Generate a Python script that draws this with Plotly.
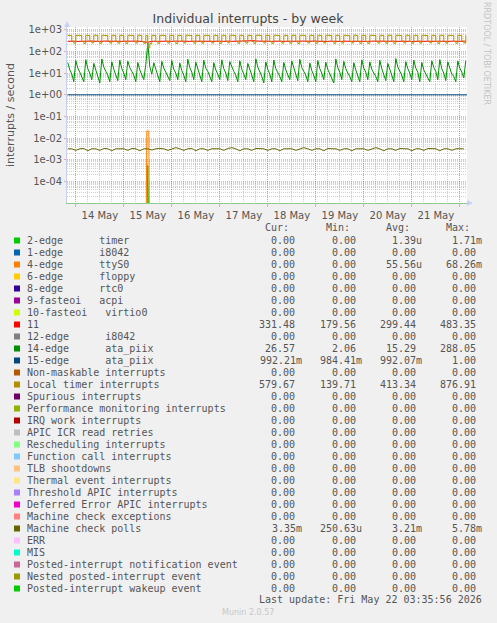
import pandas as pd
import plotly.graph_objects as go

# ---------------- data ----------------
START = "2026-05-13 20:00"
X_RANGE = ["2026-05-13 19:36", "2026-05-22 03:36"]
Y_RANGE_LOG = [-5, 3.13]

day_ticks = ["2026-05-14", "2026-05-15", "2026-05-16", "2026-05-17", "2026-05-18",
             "2026-05-19", "2026-05-20", "2026-05-21", "2026-05-22"]
day_labels = ["14 May", "15 May", "16 May", "17 May", "18 May", "19 May", "20 May", "21 May", ""]

y_tickvals = [1e3, 1e2, 1e1, 1e0, 1e-1, 1e-2, 1e-3, 1e-4]
y_ticktext = ["1e+03", "1e+02", "1e+01", "1e+00", "1e-01", "1e-02", "1e-03", "1e-04"]

# Local timer interrupts (hourly)
local_timer = [
    552, 546, 298, 242, 558, 551, 544, 291, 236, 560,
    548, 294, 250, 562, 555, 286, 239, 559, 549, 541,
    300, 246, 556, 550, 293, 243, 563, 553, 288, 237,
    557, 551, 546, 297, 247, 561, 552, 290, 241, 540,
    145, 232, 556, 549, 291, 238, 558, 552, 543, 296,
    244, 560, 553, 289, 236, 557, 550, 295, 249, 562,
    554, 547, 287, 240, 559, 551, 292, 243, 555, 549,
    542, 299, 246, 561, 553, 290, 238, 558, 550, 296,
    251, 563, 556, 548, 288, 239, 560, 552, 293, 245,
    556, 549, 291, 240, 565, 558, 550, 294, 247, 559,
    551, 289, 237, 562, 554, 545, 297, 244, 557, 550,
    292, 241, 560, 553, 286, 235, 558, 551, 543, 298,
    248, 561, 552, 290, 242, 556, 549, 295, 246, 563,
    555, 547, 288, 237, 559, 552, 293, 244, 557, 550,
    541, 296, 250, 562, 553, 291, 239, 558, 551, 287,
    236, 560, 554, 546, 299, 245, 557, 549, 292, 241,
    561, 553, 289, 238, 559, 550, 544, 295, 247, 563,
    555, 290, 240, 557, 551, 294, 243, 560, 552, 545,
    297, 249, 558, 550, 288, 236, 562, 554, 293, 244,
    556, 549, 540, 291, 239, 561, 553, 296, 246, 558,
]

# 14-edge ata_piix (hourly)
ata_piix_14 = [
    30, 14, 9, 4, 38, 17, 11, 7, 4, 42,
    16, 10, 5, 28, 13, 8, 3.5, 45, 19, 12,
    8, 4, 33, 15, 9, 4.5, 40, 16, 10, 5,
    36, 18, 12, 8, 4, 31, 14, 9, 5, 25,
    250, 20, 9, 30, 14, 8, 4, 35, 17, 11,
    7, 4.5, 38, 15, 10, 5, 29, 13, 8, 4,
    44, 18, 11, 5, 32, 15, 9, 4, 39, 17,
    12, 7, 4, 30, 14, 9, 5, 41, 16, 10,
    4.5, 34, 18, 12, 8, 4, 37, 15, 9, 5,
    28, 13, 8, 4, 46, 19, 12, 7, 3.5, 33,
    15, 9, 4, 40, 16, 11, 7, 4, 31, 14,
    9, 5, 36, 17, 10, 4.5, 43, 18, 12, 8,
    4, 29, 13, 8, 4, 38, 16, 10, 5, 32,
    15, 9, 6, 3.5, 45, 18, 11, 5, 35, 16,
    10, 7, 4, 30, 14, 8, 4, 41, 17, 11,
    5, 33, 15, 10, 7, 4, 39, 16, 9, 4.5,
    28, 13, 8, 4, 47, 19, 12, 8, 4, 34,
    16, 10, 5, 40, 17, 11, 4, 31, 14, 9,
    6, 4, 37, 18, 12, 5, 42, 16, 10, 4.5,
    33, 15, 9, 7, 4, 36, 17, 11, 6, 38,
]

# IRQ 11 (hourly)
irq_11 = [
    296, 301, 293, 305, 298, 290, 302, 297, 295, 300,
    292, 299, 304, 296, 291, 300, 298, 294, 303, 297,
    290, 301, 296, 299, 293, 305, 298, 292, 300, 296,
    294, 302, 297, 291, 299, 303, 295, 298, 290, 285,
    265, 280, 296, 300, 293, 298, 302, 295, 291, 299,
    297, 304, 293, 296, 300, 291, 298, 302, 294, 297,
    301, 292, 299, 295, 303, 297, 290, 300, 296, 298,
    293, 302, 297, 291, 299, 304, 295, 298, 292, 300,
    296, 301, 294, 297, 305, 299, 292, 298, 303, 296,
    310, 318, 325, 316, 305, 298, 293, 300, 296, 302,
    294, 299, 291, 297, 302, 295, 300, 293, 298, 304,
    296, 291, 299, 295, 301, 297, 290, 298, 303, 294,
    300, 296, 292, 299, 305, 297, 293, 301, 295, 298,
    291, 300, 296, 302, 294, 299, 297, 290, 301, 295,
    298, 303, 292, 297, 300, 294, 299, 305, 296, 291,
    300, 295, 298, 302, 293, 297, 301, 290, 299, 296,
    303, 294, 298, 300, 292, 297, 304, 295, 299, 293,
    301, 297, 290, 298, 302, 295, 300, 296, 293, 299,
    305, 297, 292, 300, 295, 298, 303, 294, 299, 296,
    291, 300, 297, 302, 295, 298, 293, 301, 296, 299,
]

# 15-edge ata_piix (12-hourly)
ata_piix_15 = [0.992, 0.991, 0.993, 0.992, 0.990, 0.992, 0.993, 0.991, 0.992,
               0.992, 0.994, 0.991, 0.992, 0.993, 0.990, 0.992, 0.992, 0.992]

# Machine check polls (2-hourly)
mc_polls = [
    0.0032, 0.0032, 0.0027, 0.0032, 0.0033, 0.0026, 0.0032, 0.0032, 0.0027, 0.0033,
    0.0032, 0.0026, 0.0032, 0.0032, 0.0032, 0.0027, 0.0033, 0.0032, 0.0026, 0.0032,
    0.0032, 0.0028, 0.0032, 0.0033, 0.0032, 0.0027, 0.0032, 0.0036, 0.0032, 0.0027,
    0.0032, 0.0033, 0.0026, 0.0032, 0.0032, 0.0027, 0.0032, 0.0032, 0.0032, 0.0027,
    0.0033, 0.0036, 0.0032, 0.0026, 0.0032, 0.0032, 0.0027, 0.0033, 0.0032, 0.0032,
    0.0027, 0.0032, 0.0032, 0.0026, 0.0032, 0.0033, 0.0032, 0.0027, 0.0032, 0.0036,
    0.0032, 0.0027, 0.0032, 0.0032, 0.0026, 0.0033, 0.0032, 0.0032, 0.0027, 0.0032,
    0.0032, 0.0026, 0.0032, 0.0033, 0.0032, 0.0027, 0.0032, 0.0036, 0.0032, 0.0026,
    0.0032, 0.0032, 0.0027, 0.0033, 0.0032, 0.0032, 0.0026, 0.0032, 0.0032, 0.0027,
    0.0033, 0.0032, 0.0032, 0.0026, 0.0032, 0.0032, 0.0027, 0.0032, 0.0033, 0.0032,
]

# spikes of otherwise-zero series around 15 May noon
timer_times = ["2026-05-15 11:00", "2026-05-15 12:00", "2026-05-15 13:00"]
timer_2edge = [0.0, 0.00054, 0.0]
ttys0_times = ["2026-05-15 11:00", "2026-05-15 11:30", "2026-05-15 12:30", "2026-05-15 13:00"]
ttys0_4edge = [0.0, 0.021, 0.021, 0.0]

# legend table
legend_names = [
    "2-edge      timer", "1-edge      i8042", "4-edge      ttyS0", "6-edge      floppy",
    "8-edge      rtc0", "9-fasteoi   acpi", "10-fasteoi   virtio0", "11",
    "12-edge      i8042", "14-edge      ata_piix", "15-edge      ata_piix",
    "Non-maskable interrupts", "Local timer interrupts", "Spurious interrupts",
    "Performance monitoring interrupts", "IRQ work interrupts", "APIC ICR read retries",
    "Rescheduling interrupts", "Function call interrupts", "TLB shootdowns",
    "Thermal event interrupts", "Threshold APIC interrupts", "Deferred Error APIC interrupts",
    "Machine check exceptions", "Machine check polls", "ERR", "MIS",
    "Posted-interrupt notification event", "Nested posted-interrupt event",
    "Posted-interrupt wakeup event",
]
legend_colors = [
    "#00CC00", "#0066B3", "#FF8000", "#FFCC00", "#330099", "#990099", "#CCFF00", "#FF0000",
    "#808080", "#008F00", "#00487D", "#B35A00", "#B38F00", "#6B006B", "#8FB300", "#B30000",
    "#BEBEBE", "#80FF80", "#80C9FF", "#FFC080", "#FFE680", "#AA80FF", "#EE00CC", "#FF8080",
    "#666600", "#FFBFFF", "#00FFCC", "#CC6699", "#999900", "#00CC00",
]
Z = "0.00"
col_cur = [Z, Z, Z, Z, Z, Z, Z, "331.48", Z, "26.57", "992.21m", Z, "579.67", Z, Z, Z, Z, Z,
           Z, Z, Z, Z, Z, Z, "3.35m", Z, Z, Z, Z, Z]
col_min = [Z, Z, Z, Z, Z, Z, Z, "179.56", Z, "2.06", "984.41m", Z, "139.71", Z, Z, Z, Z, Z,
           Z, Z, Z, Z, Z, Z, "250.63u", Z, Z, Z, Z, Z]
col_avg = ["1.39u", Z, "55.56u", Z, Z, Z, Z, "299.44", Z, "15.29", "992.07m", Z, "413.34", Z, Z,
           Z, Z, Z, Z, Z, Z, Z, Z, Z, "3.21m", Z, Z, Z, Z, Z]
col_max = ["1.71m", Z, "68.26m", Z, Z, Z, Z, "483.35", Z, "288.05", "1.00", Z, "876.91", Z, Z,
           Z, Z, Z, Z, Z, Z, Z, Z, Z, "5.78m", Z, Z, Z, Z, Z]
col_headers = ["Cur:", "Min:", "Avg:", "Max:"]
last_update = "Last update: Fri May 22 03:35:56 2026"

# ---------------- figure ----------------
W, H = 497, 623
L, R, T, B = 67, 467, 27, 203


def px(x):
    return (x - L) / (R - L)


def py(y):
    return (B - y) / (B - T)


FLOOR = 1e-9  # zero values drawn below the visible log range


def pos(vals):
    return [v if v > 0 else FLOOR for v in vals]


fig = go.Figure()


def add(x, y, color, shape="linear"):
    fig.add_trace(go.Scatter(x=x, y=pos(y), mode="lines", line=dict(color=color, width=1, shape=shape),
                             hoverinfo="skip", showlegend=False, cliponaxis=True))


add(pd.to_datetime(timer_times), timer_2edge, "#00CC00")
add(pd.to_datetime(ttys0_times), ttys0_4edge, "#FF8000")
add(pd.date_range(START, periods=len(irq_11), freq="h"), irq_11, "#FF0000")
add(pd.date_range(START, periods=len(ata_piix_14), freq="h"), ata_piix_14, "#008F00")
add(pd.date_range(START, periods=len(ata_piix_15), freq="12h"), ata_piix_15, "#00487D")
add(pd.date_range(START, periods=len(local_timer), freq="h"), local_timer, "#B38F00", "hv")
add(pd.date_range(START, periods=len(mc_polls), freq="2h"), mc_polls, "#666600")

TXT = "#555555"
MONO = "DejaVu Sans Mono"
SANS = "DejaVu Sans"
MAJOR = "rgba(225,100,100,0.5)"
MINOR = "rgba(150,150,150,0.45)"

minor_y = [m * 10 ** e for e in range(-5, 4) for m in range(2, 10)]

fig.update_layout(
    width=W, height=H,
    margin=dict(l=L, r=W - R, t=T, b=H - B, pad=0),
    paper_bgcolor="#F0F0F0", plot_bgcolor="#FFFFFF",
    title=dict(text="Individual interrupts - by week", x=248 / W, xref="container", xanchor="center",
               y=1 - 19 / H, yref="container", yanchor="middle",
               font=dict(family=SANS, size=12.5, color="#444444")),
    xaxis=dict(type="date", range=X_RANGE, tickmode="array", tickvals=day_ticks, ticktext=day_labels,
               ticklabelshift=24, tickfont=dict(family=SANS, size=10, color=TXT),
               showgrid=True, gridcolor=MAJOR, griddash="1px,1px", gridwidth=1,
               ticks="outside", ticklen=3, tickcolor=MAJOR,
               minor=dict(tickmode="linear", tick0="2026-05-14", dtick=6 * 3600 * 1000, showgrid=True,
                          gridcolor=MINOR, griddash="1px,1px", ticks=""),
               showline=True, linecolor="#8CCB8C", linewidth=1, zeroline=False, fixedrange=True),
    yaxis=dict(type="log", range=Y_RANGE_LOG, tickmode="array", tickvals=y_tickvals, ticktext=y_ticktext,
               tickfont=dict(family=SANS, size=10, color=TXT),
               showgrid=True, gridcolor=MAJOR, griddash="1px,1px", gridwidth=1,
               ticks="outside", ticklen=2, tickcolor=MAJOR,
               minor=dict(tickmode="array", tickvals=minor_y, showgrid=True, gridcolor=MINOR,
                          griddash="1px,1px", ticks=""),
               showline=True, linecolor="#C8D0F0", linewidth=1, zeroline=False, fixedrange=True),
    showlegend=False,
)

ann = []
shapes = []


def text(x, y, s, anchor="left", size=10, family=MONO, color=TXT, angle=0):
    ann.append(dict(x=px(x), y=py(y), xref="paper", yref="paper", text=s.replace(" ", "\u00a0"),
                    showarrow=False, xanchor=anchor, yanchor="middle", borderpad=0, textangle=angle,
                    font=dict(family=family, size=size, color=color)))


# axis title and side texts
ann.append(dict(x=px(10), y=py(115), xref="paper", yref="paper", text="interrupts / second",
                showarrow=False, xanchor="center", yanchor="middle", textangle=-90,
                font=dict(family=SANS, size=11, color=TXT)))
ann.append(dict(x=px(487), y=py(53), xref="paper", yref="paper", text="RRDTOOL / TOBI OETIKER",
                showarrow=False, xanchor="center", yanchor="middle", textangle=90,
                font=dict(family=SANS, size=8, color="#C4C4C4")))
ann.append(dict(x=px(248), y=py(612.5), xref="paper", yref="paper", text="Munin 2.0.57",
                showarrow=False, xanchor="center", yanchor="middle",
                font=dict(family=SANS, size=8, color="#C8C8C8")))

# legend table
CHAR = 6.02
col_end = [302.5, 363.0, 423.0, 483.3]
for h, ce in zip(col_headers, col_end):
    text(ce - 2 * CHAR, 227.5, h, anchor="right")

row0, dy = 240.5, 12.0
cols = [col_cur, col_min, col_avg, col_max]
for i, name in enumerate(legend_names):
    y = row0 + dy * i
    shapes.append(dict(type="rect", xref="paper", yref="paper", x0=px(14), x1=px(20),
                       y0=py(y + 3), y1=py(y - 3), fillcolor=legend_colors[i], line=dict(width=0)))
    text(26, y, name)
    for col, ce in zip(cols, col_end):
        v = col[i]
        xe = ce if v[-1].isalpha() else ce - CHAR
        text(xe, y, v, anchor="right")

text(483.3, 599.5, last_update, anchor="right")

# axis arrows
shapes.append(dict(type="path", xref="paper", yref="paper",
                   path=f"M {px(64)} {py(27)} L {px(70)} {py(27)} L {px(67)} {py(21)} Z",
                   fillcolor="#C8D0F8", line=dict(width=0)))
shapes.append(dict(type="path", xref="paper", yref="paper",
                   path=f"M {px(467)} {py(200)} L {px(467)} {py(206)} L {px(473)} {py(203)} Z",
                   fillcolor="#C8D0F8", line=dict(width=0)))

fig.update_layout(annotations=ann, shapes=shapes)
fig.write_html(
    "out.html",
    config={"displayModeBar": False},
    post_script="document.body.style.margin='0px';document.body.style.background='#F0F0F0';",
)
